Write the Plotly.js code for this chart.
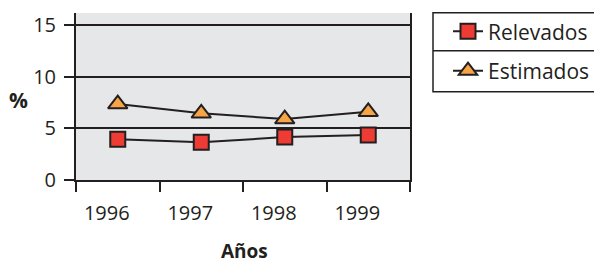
<!DOCTYPE html>
<html>
<head>
<meta charset="utf-8">
<script src="https://cdn.plot.ly/plotly-3.0.1.min.js"></script>
<style>html,body{margin:0;padding:0;background:#fff;}#chart{width:594px;height:264px;}</style>
</head>
<body>
<div id="chart"></div>
<script>
const years = ['1996', '1997', '1998', '1999'];
const relevados = [3.95, 3.65, 4.15, 4.35];
const estimados = [7.35, 6.45, 5.9, 6.6];
const yTicks = [0, 5, 10, 15];
const seriesNames = ['Relevados', 'Estimados'];

const ink = '#231f20';
const font = 'Open Sans, sans-serif';

const traces = [
  {
    x: years, y: relevados, name: seriesNames[0], type: 'scatter', mode: 'lines+markers',
    line: {color: ink, width: 2},
    marker: {symbol: 'square', size: 15, color: '#ee3b33', line: {color: ink, width: 2}},
    legend: 'legend'
  },
  {
    x: years, y: estimados, name: seriesNames[1], type: 'scatter', mode: 'lines+markers',
    line: {color: ink, width: 2},
    marker: {symbol: 'triangle-up', size: 17, color: '#f7a446', line: {color: ink, width: 2}},
    legend: 'legend2'
  }
];

const L = 76, R = 410, T = 13, B = 180, W = 594, H = 264;
const px = v => (v - L) / (R - L);
const py = v => (B - v) / (B - T);
const cx = v => v / W;
const cy = v => 1 - v / H;

const layout = {
  width: W, height: H,
  margin: {l: L, r: W - R, t: T, b: H - B, pad: 0, autoexpand: false},
  paper_bgcolor: '#ffffff',
  plot_bgcolor: '#e6e7e8',
  font: {family: font, color: ink, size: 20},
  showlegend: true,
  xaxis: {
    type: 'category', range: [-0.5, 3.5], tickson: 'boundaries',
    showgrid: false, showline: true, linecolor: ink, linewidth: 2,
    ticks: 'outside', ticklen: 10, tickwidth: 2, tickcolor: ink,
    tickfont: {size: 20, color: ink}, ticklabelshift: -11, ticklabelstandoff: 14,
    fixedrange: true
  },
  yaxis: {
    range: [0, 16.16], tickvals: yTicks, ticktext: yTicks.map(String),
    showgrid: true, gridcolor: ink, gridwidth: 2,
    zeroline: false, showline: true, mirror: true, linecolor: ink, linewidth: 2,
    ticks: 'outside', ticklen: 10, tickwidth: 2, tickcolor: ink,
    tickfont: {size: 20, color: ink}, ticklabelstandoff: 4,
    fixedrange: true
  },
  legend: {
    xref: 'container', yref: 'container',
    x: cx(448), y: cy(31.7), xanchor: 'left', yanchor: 'middle',
    bgcolor: 'rgba(0,0,0,0)', borderwidth: 0,
    font: {size: 21, color: ink, family: font}, itemwidth: 30
  },
  legend2: {
    xref: 'container', yref: 'container',
    x: cx(448), y: cy(71), xanchor: 'left', yanchor: 'middle',
    bgcolor: 'rgba(0,0,0,0)', borderwidth: 0,
    font: {size: 21, color: ink, family: font}, itemwidth: 30
  },
  shapes: [
    {type: 'rect', xref: 'paper', yref: 'paper', x0: px(433), x1: px(600), y0: py(91.7), y1: py(12.7),
     line: {color: ink, width: 1.5}, fillcolor: 'rgba(0,0,0,0)'},
    {type: 'line', xref: 'paper', yref: 'paper', x0: px(433), x1: px(600), y0: py(50.7), y1: py(50.7),
     line: {color: ink, width: 1.5}}
  ],
  annotations: [
    {text: '<b>%</b>', xref: 'paper', yref: 'paper', x: px(18), y: py(99.5), xanchor: 'center', yanchor: 'middle',
     showarrow: false, font: {size: 21, color: ink, family: font}},
    {text: '<b>Años</b>', xref: 'paper', yref: 'paper', x: px(244), y: py(251.5), xanchor: 'center', yanchor: 'middle',
     showarrow: false, font: {size: 19, color: ink, family: font}}
  ]
};

Plotly.newPlot('chart', traces, layout, {displayModeBar: false, staticPlot: true});
</script>
</body>
</html>
